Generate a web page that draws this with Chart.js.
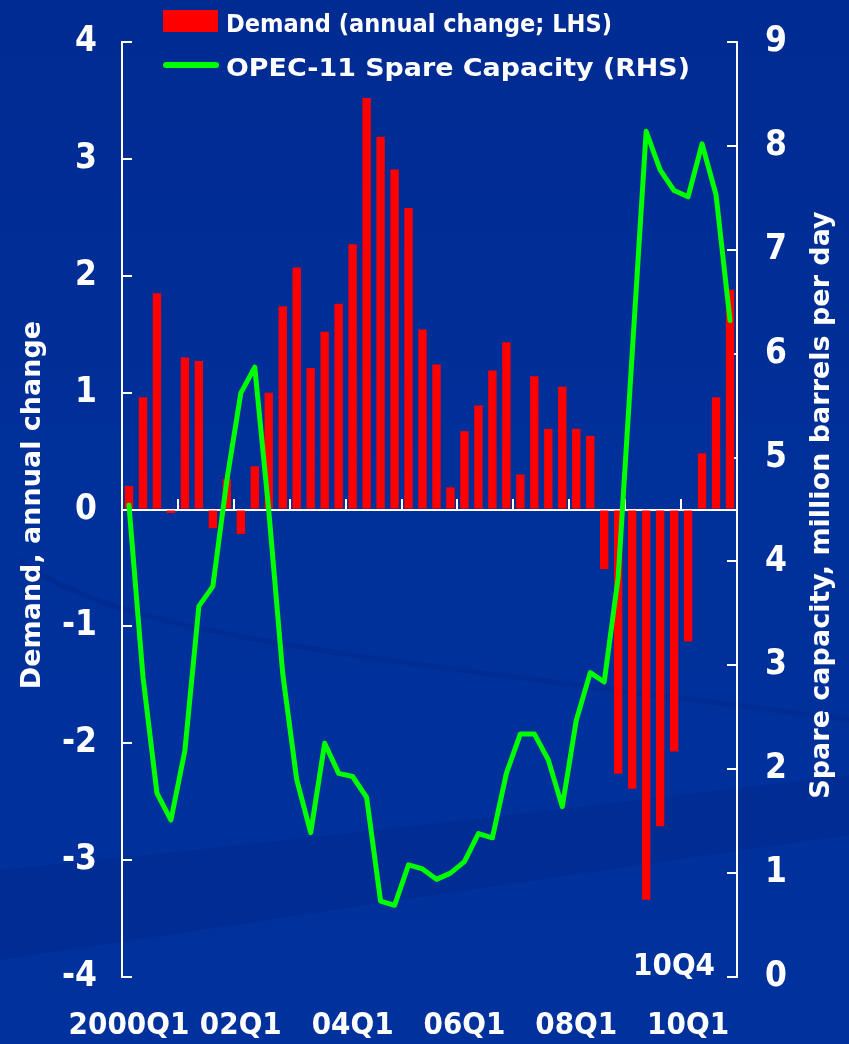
<!DOCTYPE html>
<html>
<head>
<meta charset="utf-8">
<title>Oil demand and OPEC-11 spare capacity</title>
<script src="https://cdn.jsdelivr.net/npm/chart.js@4/dist/chart.umd.min.js"></script>
<style>
  html, body { margin: 0; padding: 0; background: #002e98; }
  #chart { display: block; }
</style>
</head>
<body>
<canvas id="chart" width="849" height="1044"></canvas>
<script>
// Quarters, 2000Q1 .. 2010Q4
const quarters = [
  '00Q1','00Q2','00Q3','00Q4','01Q1','01Q2','01Q3','01Q4',
  '02Q1','02Q2','02Q3','02Q4','03Q1','03Q2','03Q3','03Q4',
  '04Q1','04Q2','04Q3','04Q4','05Q1','05Q2','05Q3','05Q4',
  '06Q1','06Q2','06Q3','06Q4','07Q1','07Q2','07Q3','07Q4',
  '08Q1','08Q2','08Q3','08Q4','09Q1','09Q2','09Q3','09Q4',
  '10Q1','10Q2','10Q3','10Q4'
];

// World oil demand, annual change (LHS)
const demandChange = [
  0.20, 0.96, 1.85, -0.03, 1.30, 1.27, -0.16, 0.26,
  -0.21, 0.37, 1.00, 1.74, 2.07, 1.21, 1.52, 1.76,
  2.27, 3.52, 3.19, 2.91, 2.58, 1.54, 1.24, 0.19,
  0.67, 0.89, 1.19, 1.43, 0.30, 1.14, 0.69, 1.05,
  0.69, 0.63, -0.51, -2.26, -2.39, -3.34, -2.71, -2.07,
  -1.13, 0.48, 0.96, 1.88
];

// OPEC-11 spare capacity, million barrels per day (RHS)
const spareCapacity = [
  4.54, 2.89, 1.77, 1.51, 2.18, 3.57, 3.76, 4.78,
  5.62, 5.87, 4.49, 2.92, 1.90, 1.39, 2.25, 1.96,
  1.93, 1.73, 0.73, 0.69, 1.08, 1.04, 0.94, 1.00,
  1.11, 1.38, 1.34, 1.96, 2.34, 2.34, 2.09, 1.64,
  2.47, 2.93, 2.84, 3.85, 6.00, 8.14, 7.77, 7.57,
  7.51, 8.02, 7.53, 6.32
];

// Quarters that carry a label on the time axis, and the text shown
const labelledQuarters = ['00Q1', '02Q1', '04Q1', '06Q1', '08Q1', '10Q1'];
const labelText        = ['2000Q1', '02Q1', '04Q1', '06Q1', '08Q1', '10Q1'];
const lastQuarterNote = '10Q4';

const leftTitle  = 'Demand, annual change';
const rightTitle = 'Spare capacity, million barrels per day';

const WHITE = '#ffffff';
const BAR_RED = '#ff0000';
const LINE_GREEN = '#00ff00';
const NARROW = "'DejaVu Sans Condensed', 'DejaVu Sans', sans-serif";
const WIDE = "'DejaVu Sans', sans-serif";

// Backdrop: blue slide background with soft darker swooshes
const backdrop = {
  id: 'backdrop',
  beforeDraw(chart) {
    const { ctx, width, height } = chart;
    ctx.save();
    const g = ctx.createLinearGradient(0, 0, 0, height);
    g.addColorStop(0, '#002b92');
    g.addColorStop(0.5, '#00309a');
    g.addColorStop(1, '#00319c');
    ctx.fillStyle = g;
    ctx.fillRect(0, 0, width, height);

    ctx.fillStyle = 'rgba(0, 20, 90, 0.12)';
    ctx.beginPath();
    ctx.moveTo(0, 870);
    ctx.bezierCurveTo(300, 840, 600, 805, width, 775);
    ctx.lineTo(width, 835);
    ctx.bezierCurveTo(600, 870, 300, 915, 0, 960);
    ctx.closePath();
    ctx.fill();

    ctx.strokeStyle = 'rgba(0, 20, 90, 0.12)';
    ctx.lineWidth = 5;
    ctx.beginPath();
    ctx.moveTo(20, 560);
    ctx.bezierCurveTo(120, 640, 400, 660, 849, 720);
    ctx.stroke();
    ctx.restore();
  }
};

// Text drawn to a set width, keeping the glyph height
function fitText(ctx, text, x, y, width) {
  const w = ctx.measureText(text).width;
  ctx.save();
  ctx.translate(x, y);
  ctx.scale(width / w, 1);
  ctx.fillText(text, 0, 0);
  ctx.restore();
}

// Legend, axis titles and the end-quarter note
const annotations = {
  id: 'annotations',
  afterDraw(chart) {
    const { ctx } = chart;
    const bars = chart.data.datasets[1];
    const line = chart.data.datasets[0];
    ctx.save();
    ctx.textBaseline = 'alphabetic';
    ctx.textAlign = 'left';

    // legend
    ctx.fillStyle = bars.backgroundColor;
    ctx.fillRect(163, 10, 55, 22);
    ctx.strokeStyle = line.borderColor;
    ctx.lineWidth = 6;
    ctx.lineCap = 'round';
    ctx.beginPath();
    ctx.moveTo(166, 65);
    ctx.lineTo(216, 65);
    ctx.stroke();
    ctx.fillStyle = WHITE;
    ctx.font = 'bold 25px ' + NARROW;
    fitText(ctx, bars.label, 226, 32, 386);
    fitText(ctx, line.label, 226, 76, 464);

    // axis titles, both reading upward
    ctx.font = 'bold 27px ' + WIDE;
    ctx.textAlign = 'center';
    ctx.textBaseline = 'middle';
    ctx.save();
    ctx.translate(33, 505);
    ctx.rotate(-Math.PI / 2);
    ctx.fillText(leftTitle, 0, 0);
    ctx.restore();

    ctx.save();
    ctx.translate(822, 505);
    ctx.rotate(-Math.PI / 2);
    ctx.fillText(rightTitle, 0, 0);
    ctx.restore();

    // last quarter note at the foot of the plot
    const xs = chart.scales.x;
    ctx.font = 'bold 31px ' + NARROW;
    ctx.textAlign = 'right';
    ctx.textBaseline = 'alphabetic';
    ctx.fillText(lastQuarterNote, xs.right - 22, 975);
    ctx.restore();
  }
};

const tickFont = (size) => ({ family: NARROW, weight: 'bold', size });

// fixed axis widths; label overhang is kept inside the layout padding
const fixWidth = (w) => (scale) => {
  scale.width = w;
  scale.paddingTop = 0;
  scale.paddingBottom = 0;
};

new Chart(document.getElementById('chart'), {
  type: 'bar',
  data: {
    labels: quarters,
    datasets: [
      {
        type: 'line',
        label: 'OPEC-11 Spare Capacity (RHS)',
        data: spareCapacity,
        xAxisID: 'x',
        yAxisID: 'y2',
        borderColor: LINE_GREEN,
        backgroundColor: LINE_GREEN,
        borderWidth: 5,
        borderJoinStyle: 'round',
        borderCapStyle: 'round',
        pointRadius: 0,
        tension: 0,
        fill: false,
        order: 0
      },
      {
        type: 'bar',
        label: 'Demand (annual change; LHS)',
        data: demandChange,
        xAxisID: 'x',
        yAxisID: 'y',
        backgroundColor: BAR_RED,
        borderWidth: 0,
        barPercentage: 0.6,
        categoryPercentage: 1,
        order: 1
      }
    ]
  },
  options: {
    responsive: false,
    animation: false,
    devicePixelRatio: 1,
    layout: { padding: { top: 42, left: 0, right: 0, bottom: 0 } },
    plugins: {
      legend: { display: false },
      tooltip: { enabled: false }
    },
    scales: {
      x: {
        type: 'category',
        position: 'bottom',
        offset: true,
        grid: { display: false, drawTicks: false },
        border: { display: false },
        ticks: {
          autoSkip: false,
          maxRotation: 0,
          minRotation: 0,
          color: WHITE,
          font: tickFont(31),
          padding: 30,
          callback(value) {
            const k = labelledQuarters.indexOf(this.getLabelForValue(value));
            return k >= 0 ? labelText[k] : '';
          }
        },
        afterFit(scale) { scale.height = 67; }
      },
      // zero line with a tick every four quarters
      xZero: {
        type: 'category',
        position: { y: 0 },
        offset: true,
        grid: {
          offset: true,
          drawOnChartArea: false,
          drawTicks: true,
          tickLength: -12,
          lineWidth: 2,
          color: (c) => (c.index > 0 && c.index < quarters.length && c.index % 4 === 0) ? WHITE : 'rgba(0,0,0,0)'
        },
        border: { display: true, color: WHITE, width: 2 },
        ticks: { display: false }
      },
      y: {
        position: 'left',
        min: -4,
        max: 4,
        ticks: { stepSize: 1, color: WHITE, font: tickFont(35), padding: 35 },
        grid: { drawOnChartArea: false, drawTicks: true, tickLength: -10, lineWidth: 2, color: WHITE },
        border: { display: true, color: WHITE, width: 2 },
        afterFit: fixWidth(122)
      },
      y2: {
        position: 'right',
        min: 0,
        max: 9,
        ticks: { stepSize: 1, color: WHITE, font: tickFont(35), padding: 38 },
        grid: { drawOnChartArea: false, drawTicks: true, tickLength: -10, lineWidth: 2, color: WHITE },
        border: { display: true, color: WHITE, width: 2 },
        afterFit: fixWidth(112)
      }
    }
  },
  plugins: [backdrop, annotations]
});
</script>
</body>
</html>
